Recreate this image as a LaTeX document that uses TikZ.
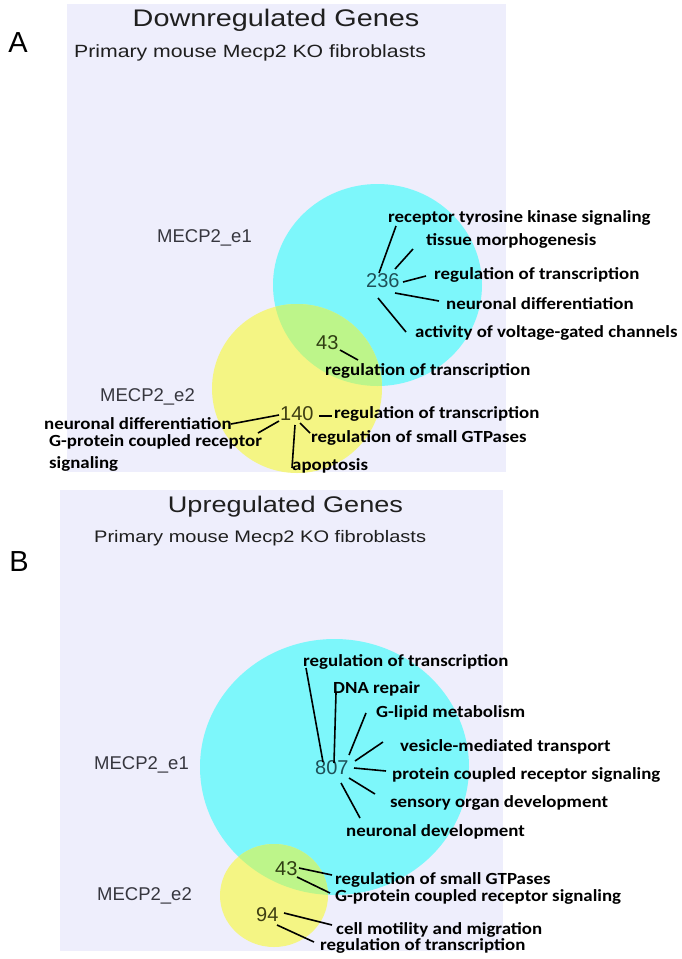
\documentclass[tikz,border=0pt]{standalone}
\usepackage{fontspec}
\setmainfont{Liberation Sans}
\newfontfamily\wide[FakeStretch=1.2]{Liberation Sans}
\newfontfamily\lab[FakeStretch=1.11]{Carlito}
\definecolor{lav}{HTML}{EEEEFC}
\definecolor{cy}{HTML}{7DF7FB}
\definecolor{ye}{HTML}{F4F584}
\definecolor{gr}{HTML}{BDF58A}
\definecolor{numcy}{HTML}{1E5058}
\definecolor{numgr}{HTML}{2F3E12}
\definecolor{numye}{HTML}{3E3E12}
\definecolor{setc}{HTML}{36363E}
\tikzset{
  panelbg/.style={fill=lav, draw=none},
  titletxt/.style={inner sep=0, font=\wide\fontsize{24}{24}\selectfont, text=black!88},
  subtxt/.style={inner sep=0, anchor=west, font=\wide\fontsize{17.7}{18}\selectfont, text=black!88},
  settxt/.style={inner sep=0, anchor=west, font=\fontsize{18.5}{19}\selectfont, text=setc},
  numtxt/.style={inner sep=0, anchor=west, font=\fontsize{20}{20}\selectfont},
  termtxt/.style={inner sep=0, anchor=west, font=\lab\bfseries\fontsize{17}{17}\selectfont, text=black},
  leader/.style={draw=black, line width=1.6pt},
  letter/.style={inner sep=0, font=\fontsize{29}{29}\selectfont, text=black}
}
\begin{document}
\begin{tikzpicture}[x=1pt,y=-1pt]
\useasboundingbox (0,0) rectangle (682,959);
\fill[white] (0,0) rectangle (682,959);
% ---------------- Panel A ----------------
\fill[panelbg] (67,4) rectangle (506,472);
\node[letter] (LA) at (18,43) {A};
\node[titletxt] (TA) at (276,20) {Downregulated Genes};
\node[subtxt] (SA) at (74,53) {Primary mouse Mecp2 KO fibroblasts};
\fill[cy] (377.5,285) ellipse [x radius=104.5, y radius=101];
\fill[ye] (297,388.5) ellipse [x radius=85, y radius=84.5];
\begin{scope}
  \clip (297,388.5) ellipse [x radius=85, y radius=84.5];
  \fill[gr] (377.5,285) ellipse [x radius=104.5, y radius=101];
\end{scope}
\node[settxt] (A1) at (157,238) {MECP2\_e1};
\node[settxt] (A2) at (100,397) {MECP2\_e2};
\node[numtxt, text=numcy] (n236) at (366,281) {236};
\node[numtxt, text=numgr] (n43a) at (316,343) {43};
\node[numtxt, text=numye] (n140) at (280,414) {140};
% terms
\node[termtxt] (ta1) at (388,218) {receptor tyrosine kinase signaling};
\node[termtxt] (ta2) at (426,241) {tissue morphogenesis};
\node[termtxt] (ta3) at (434,275) {regulation of transcription};
\node[termtxt] (ta4) at (446,304) {neuronal differentiation};
\node[termtxt] (ta5) at (415,333) {activity of voltage-gated channels};
\node[termtxt] (ta6) at (325,371) {regulation of transcription};
\node[termtxt] (ta7) at (334,414) {regulation of transcription};
\node[termtxt] (ta8) at (311,438) {regulation of small GTPases};
\node[termtxt] (ta9) at (292,466) {apoptosis};
\node[termtxt] (ta10) at (44,424) {neuronal differentiation};
\node[termtxt] (ta11) at (49,442) {G-protein coupled receptor};
\node[termtxt] (ta12) at (49,464) {signaling};
% leader ends
\coordinate (a1s) at (379,273); \coordinate (a1e) at (396,226);
\coordinate (a2s) at (395,269); \coordinate (a2e) at (413,249);
\coordinate (a3s) at (403,282); \coordinate (a3e) at (426,276);
\coordinate (a4s) at (395,293); \coordinate (a4e) at (439,301);
\coordinate (a5s) at (378,298); \coordinate (a5e) at (406,332);
\coordinate (a6s) at (340,350); \coordinate (a6e) at (358,360);
\coordinate (a7s) at (319,416); \coordinate (a7e) at (332,416);
\coordinate (a8s) at (300,423); \coordinate (a8e) at (310,433);
\coordinate (a9s) at (295,425); \coordinate (a9e) at (292,468);
\coordinate (a10s) at (279,415); \coordinate (a10e) at (231,424);
\coordinate (a11s) at (279,421); \coordinate (a11e) at (258,433);
\foreach \i in {1,...,11} {\draw[leader] (a\i s) -- (a\i e);}
% ---------------- Panel B ----------------
\fill[panelbg] (60,490) rectangle (503,951);
\node[letter] (LB) at (19,562) {B};
\node[titletxt, font=\wide\fontsize{22.6}{23}\selectfont] (TB) at (285.5,507) {Upregulated Genes};
\node[subtxt, font=\wide\fontsize{16.7}{17}\selectfont] (SB) at (94,538) {Primary mouse Mecp2 KO fibroblasts};
\fill[cy] (334.5,767) ellipse [x radius=134.5, y radius=128];
\fill[ye] (274,895.5) ellipse [x radius=54, y radius=51.5];
\begin{scope}
  \clip (274,895.5) ellipse [x radius=54, y radius=51.5];
  \fill[gr] (334.5,767) ellipse [x radius=134.5, y radius=128];
\end{scope}
\node[settxt] (B1) at (94,765) {MECP2\_e1};
\node[settxt] (B2) at (97,896) {MECP2\_e2};
\node[numtxt, text=numcy] (n807) at (315,768) {807};
\node[numtxt, text=numgr] (n43b) at (275,869) {43};
\node[numtxt, text=numye] (n94) at (256,915) {94};
\node[termtxt] (tb1) at (303,662) {regulation of transcription};
\node[termtxt] (tb2) at (333,689) {DNA repair};
\node[termtxt] (tb3) at (376,713) {G-lipid metabolism};
\node[termtxt] (tb4) at (400,747) {vesicle-mediated transport};
\node[termtxt] (tb5) at (392,775) {protein coupled receptor signaling};
\node[termtxt] (tb6) at (390,803) {sensory organ development};
\node[termtxt] (tb7) at (346,832) {neuronal development};
\node[termtxt] (tb8) at (335,880) {regulation of small GTPases};
\node[termtxt] (tb9) at (335,897) {G-protein coupled receptor signaling};
\node[termtxt] (tb10) at (336,930) {cell motility and migration};
\node[termtxt] (tb11) at (320,946) {regulation of transcription};
\coordinate (b1s) at (323,762); \coordinate (b1e) at (306,668);
\coordinate (b2s) at (334,763); \coordinate (b2e) at (336,693);
\coordinate (b3s) at (349,755); \coordinate (b3e) at (366,713);
\coordinate (b4s) at (355,761); \coordinate (b4e) at (383,742);
\coordinate (b5s) at (354,768); \coordinate (b5e) at (386,771);
\coordinate (b6s) at (349,778); \coordinate (b6e) at (375,794);
\coordinate (b7s) at (341,783); \coordinate (b7e) at (360,818);
\coordinate (b8s) at (299,868); \coordinate (b8e) at (332,875);
\coordinate (b9s) at (297,877); \coordinate (b9e) at (330,893);
\coordinate (b10s) at (284,913); \coordinate (b10e) at (332,925);
\coordinate (b11s) at (277,925); \coordinate (b11e) at (314,942);
\foreach \i in {1,...,11} {\draw[leader] (b\i s) -- (b\i e);}
\end{tikzpicture}
\end{document}
